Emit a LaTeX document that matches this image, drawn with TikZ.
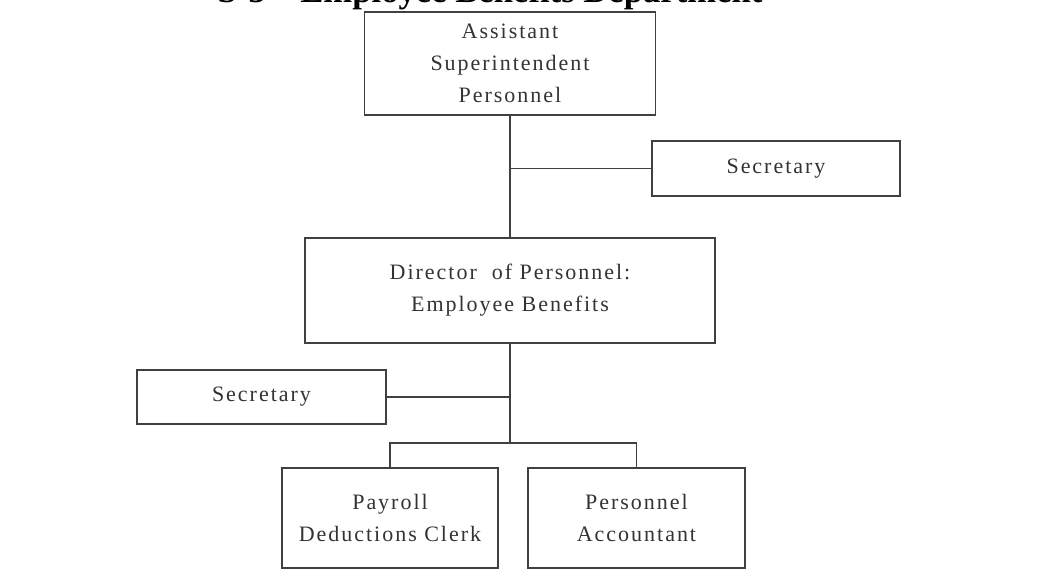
\documentclass[tikz,border=0pt]{standalone}
\usepackage{fontspec}
\setmainfont{Liberation Serif}
\newfontfamily\boxfont[LetterSpace=9]{Liberation Serif}
\begin{document}
\begin{tikzpicture}[x=0.75pt,y=-0.75pt,
  orgbox/.style={draw=black!75, line width=1.3pt, fill=white, align=center,
    inner sep=0pt, font=\boxfont\fontsize{16.5}{24}\selectfont, text=black!80},
  wire/.style={draw=black!75, line width=1.3pt}]
  \useasboundingbox (0,0) rectangle (1038,586);
  \clip (0,0) rectangle (1038,586);

  % heading, mostly running off the top edge
  \node[anchor=base, font=\bfseries\fontsize{26}{30}\selectfont] (title) at (490,2)
    {S-5\quad Employee Benefits Department};

  % boxes
  \node[orgbox, minimum width=218.25pt, minimum height=77.25pt] (asp) at (510,63.5)
    {Assistant\\Superintendent\\Personnel};
  \node[orgbox, minimum width=186pt, minimum height=41.25pt] (sec1) at (776,168.5)
    {Secretary};
  \node[orgbox, minimum width=307.5pt, minimum height=78.75pt] (dir) at (510,290.5)
    {Director \ of Personnel:\\Employee Benefits};
  \node[orgbox, minimum width=186.75pt, minimum height=40.5pt] (sec2) at (261.5,397)
    {Secretary};
  \node[orgbox, minimum width=162pt, minimum height=75pt] (pay) at (390,518)
    {Payroll\\Deductions Clerk};
  \node[orgbox, minimum width=162.75pt, minimum height=75pt] (acc) at (636.5,518)
    {Personnel\\Accountant};

  % connectors
  \draw[wire] (asp.south) -- (dir.north);
  \draw[wire] (sec1.west) -- (sec1.west -| asp.south);
  \coordinate (bus) at (510,443);
  \draw[wire] (dir.south) -- (bus);
  \draw[wire] (sec2.east) -- (sec2.east -| dir.south);
  \draw[wire] (pay.north) |- (bus) -| (acc.north);
\end{tikzpicture}
\end{document}
